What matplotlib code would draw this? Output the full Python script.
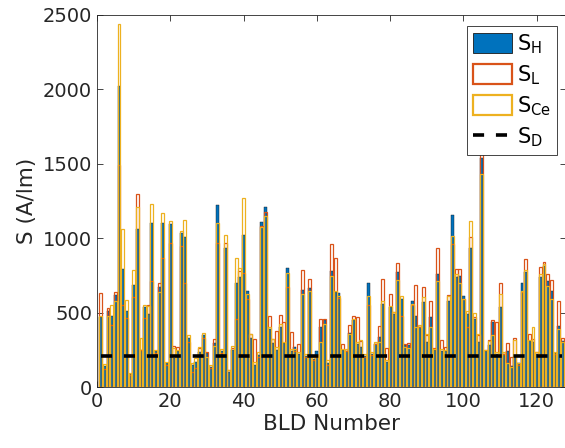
import numpy as np
import matplotlib
matplotlib.use("Agg")
import matplotlib.pyplot as plt
from matplotlib.patches import Patch

plt.rcParams['font.family'] = ['DejaVu Sans']
plt.rcParams['lines.scale_dashes'] = False

# Building numbers and the three estimates per building (A/lm)
bld = np.arange(1, 128)

s_h = [470, 140, 510, 480, 620, 2020, 793, 513, 85, 687,
       1060, 247, 540, 493, 1100, 240, 673, 1100, 160, 1093,
       193, 240, 1036, 1007, 327, 147, 169, 236, 347, 227,
       136, 293, 1220, 240, 935, 100, 247, 702, 740, 1020,
       647, 327, 147, 215, 1109, 1213, 391, 296, 250, 402,
       293, 802, 240, 269, 220, 651, 210, 664, 190, 240,
       402, 447, 163, 780, 636, 629, 250, 245, 364, 450,
       290, 269, 210, 702, 225, 290, 336, 558, 170, 536,
       491, 773, 591, 280, 285, 580, 480, 402, 569, 302,
       469, 250, 758, 240, 240, 580, 1153, 736, 747, 613,
       491, 935, 460, 300, 1540, 240, 280, 436, 220, 540,
       225, 242, 140, 202, 160, 702, 776, 310, 302, 225,
       740, 813, 713, 647, 230, 413, 310]

s_l = [635, 120, 530, 420, 640, 1490, 553, 467, 80, 607,
       1300, 247, 467, 553, 713, 230, 700, 867, 150, 969,
       273, 269, 947, 702, 300, 102, 127, 260, 330, 236,
       130, 324, 969, 230, 969, 113, 260, 458, 780, 769,
       591, 358, 324, 200, 1080, 1176, 480, 320, 373, 487,
       436, 669, 369, 240, 291, 787, 200, 729, 180, 200,
       458, 458, 150, 962, 869, 600, 291, 240, 420, 476,
       470, 310, 200, 553, 215, 290, 413, 729, 260, 624,
       502, 836, 480, 291, 296, 550, 684, 400, 673, 350,
       580, 260, 935, 318, 270, 618, 958, 796, 791, 590,
       402, 1007, 469, 350, 1650, 250, 313, 453, 440, 702,
       220, 296, 202, 331, 150, 640, 858, 353, 324, 236,
       807, 840, 758, 718, 225, 580, 330]

s_ce = [480, 155, 480, 553, 580, 2440, 1060, 587, 93, 787,
        1207, 327, 553, 547, 1227, 247, 640, 1167, 169, 1118,
        260, 247, 1051, 1124, 347, 162, 193, 269, 364, 202,
        147, 273, 1102, 258, 1024, 113, 273, 864, 798, 1270,
        624, 358, 169, 236, 1073, 1147, 402, 324, 269, 424,
        302, 769, 258, 258, 236, 624, 224, 647, 202, 213,
        302, 424, 180, 747, 647, 613, 258, 258, 358, 458,
        302, 318, 220, 613, 236, 302, 302, 580, 180, 547,
        502, 720, 609, 269, 260, 558, 402, 420, 602, 358,
        402, 258, 713, 258, 247, 609, 1018, 758, 702, 591,
        513, 1113, 496, 358, 1430, 247, 310, 347, 236, 624,
        236, 158, 136, 313, 158, 647, 785, 318, 402, 236,
        758, 824, 680, 591, 236, 391, 300]

s_d = np.full(len(bld), 210)

C_H = '#0072BD'
C_L = '#D95319'
C_CE = '#EDB120'

fig = plt.figure(figsize=(5.65, 4.48), dpi=100)
ax = fig.add_axes([97 / 565, 61 / 448, 469 / 565, 372 / 448])

w = 0.8
ax.bar(bld, s_h, width=w, color=C_H, edgecolor='#1a1a1a', linewidth=0.3,
       zorder=2)
ax.bar(bld, s_l, width=w, facecolor='none', edgecolor=C_L, linewidth=0.9,
       zorder=3)
ax.bar(bld, s_ce, width=w, facecolor='none', edgecolor=C_CE, linewidth=0.9,
       zorder=4)
ld, = ax.plot(bld, s_d, color='black', linewidth=2.6, dashes=(8, 8.5), zorder=5)

ax.set_xlim(0, 128)
ax.set_ylim(0, 2500)
ax.set_xticks(np.arange(0, 121, 20))
ax.set_yticks(np.arange(0, 2501, 500))
ax.tick_params(direction='in', top=True, right=True, length=4,
               labelsize=14, color='#262626', labelcolor='#262626', width=0.6)
for sp in ax.spines.values():
    sp.set_color('#262626')
    sp.set_linewidth(0.6)

ax.set_xlabel('BLD Number', fontsize=15.5, color='#262626', labelpad=2)
ax.set_ylabel('S (A/lm)', fontsize=15.5, color='#262626', labelpad=4)

# Legend patches drawn with heavier outlines than the thin bars
hh = Patch(facecolor=C_H, edgecolor='#1a1a1a', linewidth=0.6)
hl = Patch(facecolor='white', edgecolor=C_L, linewidth=1.6)
hc = Patch(facecolor='white', edgecolor=C_CE, linewidth=1.6)
leg = ax.legend([hh, hl, hc, ld],
                ['S$_\\mathregular{H}$', 'S$_\\mathregular{L}$',
                 'S$_\\mathregular{Ce}$', 'S$_\\mathregular{D}$'],
                loc='upper right', bbox_to_anchor=(0.981, 0.970),
                fontsize=15, frameon=True, fancybox=False, framealpha=1,
                edgecolor='#262626', handlelength=1.9, handleheight=1.1,
                labelspacing=0.36, borderpad=0.28, handletextpad=0.25,
                borderaxespad=0.0)
leg.get_frame().set_linewidth(0.6)

fig.savefig('out.png', dpi=100)
